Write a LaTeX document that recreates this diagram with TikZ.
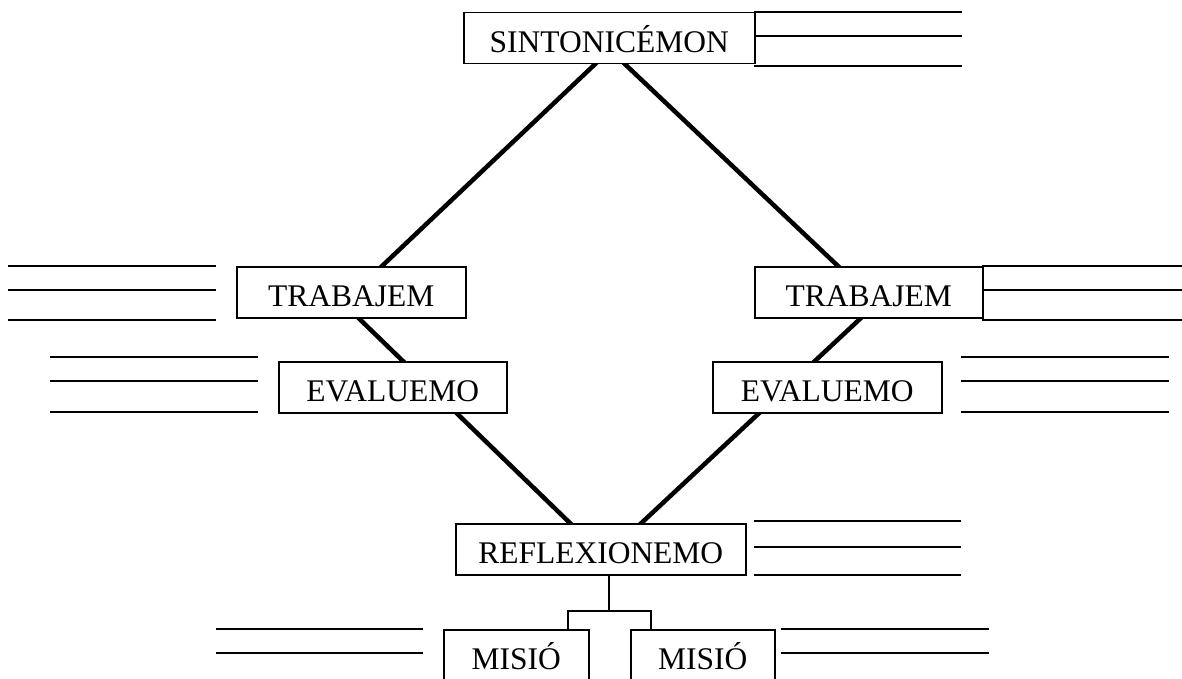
\documentclass[tikz,border=0pt]{standalone}
\usepackage{fontspec}
\setmainfont{Liberation Serif}
\usetikzlibrary{backgrounds}
\begin{document}
\begin{tikzpicture}[x=1pt,y=-1pt,
  box/.style={draw, line width=1.5pt, fill=white, inner sep=0pt,
    text height=40pt, text depth=11pt, anchor=north west,
    font=\fontsize{31.5}{36}\selectfont},
  rule/.style={line width=1.5pt},
  link/.style={line width=4.5pt},
  forkline/.style={line width=1.5pt}]
\useasboundingbox (0,0) rectangle (1182,679);
\clip (0,0) rectangle (1182,679);

% boxes
\node[box, minimum width=291pt] (sint) at (463,12) {SINTONICÉMON};
\node[box, minimum width=229pt] (trabL) at (236,266) {TRABAJEM};
\node[box, minimum width=228pt] (trabR) at (754,266) {TRABAJEM};
\node[box, minimum width=228pt] (evalL) at (278,361) {EVALUEMO};
\node[box, minimum width=229pt] (evalR) at (712,361) {EVALUEMO};
\node[box, minimum width=290pt] (refl) at (455,523) {REFLEXIONEMO};
\node[box, minimum width=145pt, text depth=20pt] (misioL) at (443,629) {MISIÓ};
\node[box, minimum width=144pt, text depth=20pt] (misioR) at (630,629) {MISIÓ};

% diamond of thick connectors (corners hidden behind the boxes)
\coordinate (dTop) at (610,50);
\coordinate (dLeft) at (343,303);
\coordinate (dRight) at (877,303);
\coordinate (dBot) at (605,557);
\begin{scope}[on background layer]
  \draw[link] (dTop) -- (dLeft) -- (dBot) -- (dRight) -- cycle;
\end{scope}

% fork to the two MISIÓ boxes
\coordinate (fk) at (609,611);
\coordinate (fkL) at (568,611);
\coordinate (fkR) at (651,611);
\draw[forkline] (refl.south -| fk) -- (fk);
\draw[forkline] (fkL |- misioL.north) -- (fkL) -- (fkR) -- (fkR |- misioR.north);

% writing lines
\foreach \y in {12,36,66} \draw[rule] (754,\y) -- (962,\y);
\foreach \y in {266,290,320} \draw[rule] (8,\y) -- (216,\y);
\foreach \y in {357,381,412} \draw[rule] (50,\y) -- (258,\y);
\foreach \y in {266,290,320} \draw[rule] (982,\y) -- (1182,\y);
\foreach \y in {357,381,412} \draw[rule] (961,\y) -- (1169,\y);
\foreach \y in {521,547,575} \draw[rule] (754,\y) -- (961,\y);
\foreach \y in {629,653} \draw[rule] (216,\y) -- (423,\y);
\foreach \y in {629,653} \draw[rule] (781,\y) -- (989,\y);
\end{tikzpicture}
\end{document}
